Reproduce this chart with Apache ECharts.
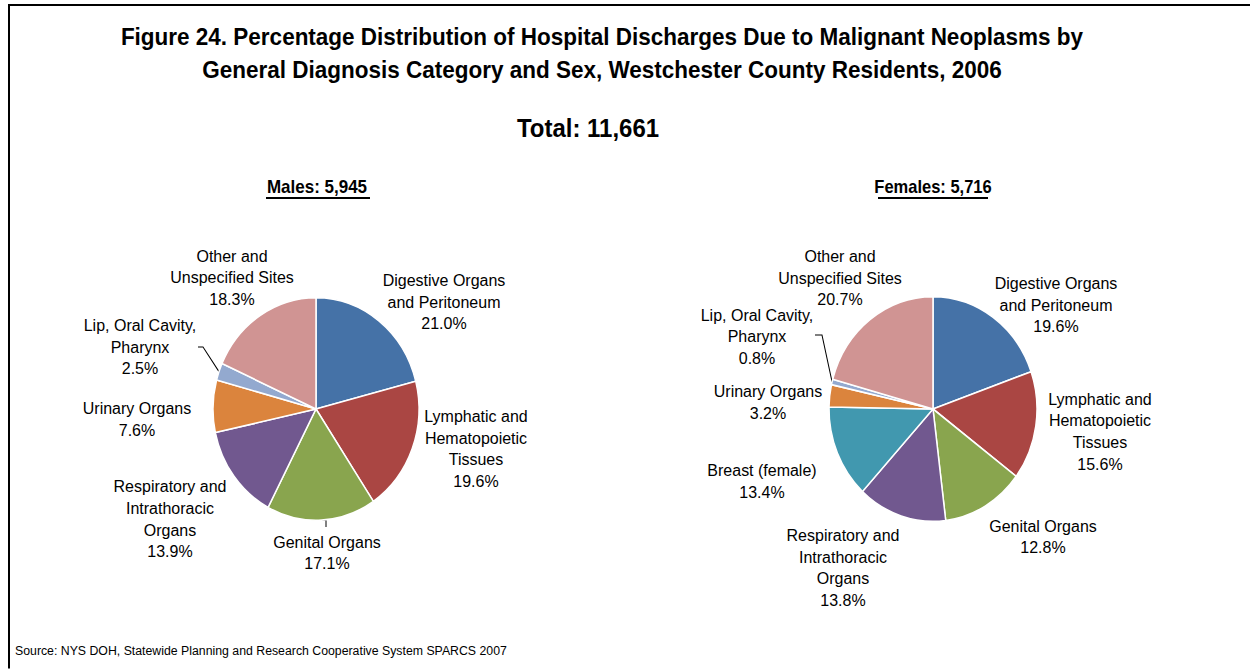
<!DOCTYPE html>
<html>
<head>
<meta charset="utf-8">
<script src="https://cdn.jsdelivr.net/npm/echarts@6/dist/echarts.min.js"></script>
<style>
  html, body { margin: 0; padding: 0; background: #fff; }
  #wrap { width: 1250px; height: 669px; overflow: hidden; position: relative; }
  /* the original picture is stretched vertically by about 8% */
  #main { position: absolute; left: 0; top: 0; width: 1250px; height: 619.4px; transform: scaleY(1.08); transform-origin: 0 0; }
</style>
</head>
<body>
<div id="wrap"><div id="main"></div></div>
<script>
// data
let maleCats = ['Digestive Organs\nand Peritoneum', 'Lymphatic and\nHematopoietic\nTissues', 'Genital Organs',
    'Respiratory and\nIntrathoracic\nOrgans', 'Urinary Organs', 'Lip, Oral Cavity,\nPharynx', 'Other and\nUnspecified Sites'];
let maleValues = [21.0, 19.6, 17.1, 13.9, 7.6, 2.5, 18.3];
let femaleCats = ['Digestive Organs\nand Peritoneum', 'Lymphatic and\nHematopoietic\nTissues', 'Genital Organs',
    'Respiratory and\nIntrathoracic\nOrgans', 'Breast (female)', 'Urinary Organs', 'Lip, Oral Cavity,\nPharynx', 'Other and\nUnspecified Sites'];
let femaleValues = [19.6, 15.6, 12.8, 13.8, 13.4, 3.2, 0.8, 20.7];

let colorOf = {
    'Digestive': '#4572A7', 'Lymphatic': '#AA4643', 'Genital': '#89A54E', 'Respiratory': '#71588F',
    'Breast': '#4198AF', 'Urinary': '#DB843D', 'Lip,': '#93A9CF', 'Other': '#D09493'
};

// label centres (chart coords) and leader line bends
let maleLabelPos = [[444, 279.6], [476, 415.7], [327, 512], [170, 480.6], [137, 388.4], [140, 321.3], [232, 257]];
let maleLeader = {2: [[326, 481.5], [326, 488]], 5: [[203, 321.3], [198, 321.3]]};
let femaleLabelPos = [[1056, 282.4], [1100, 399.5], [1043, 497.2], [843, 525.9], [762, 445.4], [768, 372.7], [757, 311.6], [840, 257.4]];
let femaleLeader = {6: [[822, 310.2], [815, 310.2]]};

let font = '"Liberation Sans", Arial, sans-serif';

function makeData(cats, values, leader) {
    let out = [];
    for (let i = 0; i < cats.length; i++) {
        out.push({
            name: cats[i],
            value: values[i],
            itemStyle: {color: colorOf[cats[i].split(' ')[0]]},
            labelLine: {show: !!leader[i]}
        });
    }
    return out;
}

function makeLayout(pos, leader, center, r) {
    return function (params) {
        let i = params.dataIndex;
        let res = {x: pos[i][0], y: pos[i][1], align: 'center', verticalAlign: 'middle'};
        if (leader[i]) {
            let start = params.labelLinePoints ? params.labelLinePoints[0] : null;
            if (!start) {
                start = [center[0], center[1] + r];
            }
            res.labelLinePoints = [start, leader[i][0], leader[i][1]];
        }
        return res;
    };
}

function pieSeries(cats, values, pos, leader, center, r) {
    return {
        type: 'pie',
        center: center,
        radius: r,
        startAngle: 90,
        clockwise: true,
        avoidLabelOverlap: false,
        animation: false,
        itemStyle: {borderColor: '#fff', borderWidth: 1.5},
        label: {
            show: true,
            position: 'outside',
            color: '#000',
            fontSize: 16,
            lineHeight: 20,
            fontFamily: font,
            formatter: function (p) { return p.name + '\n' + p.value.toFixed(1) + '%'; }
        },
        labelLine: {lineStyle: {color: '#000', width: 1}, length: 5, length2: 5},
        emphasis: {disabled: true},
        labelLayout: makeLayout(pos, leader, center, r),
        data: makeData(cats, values, leader)
    };
}

let chart = echarts.init(document.getElementById('main'), null, {renderer: 'svg'});
chart.setOption({
    backgroundColor: '#fff',
    animation: false,
    graphic: [
        {type: 'line', shape: {x1: 8, y1: 4.6, x2: 1250, y2: 4.6}, style: {stroke: '#000', lineWidth: 2}},
        {type: 'line', shape: {x1: 9, y1: 4, x2: 9, y2: 620}, style: {stroke: '#000', lineWidth: 2}},
        {type: 'text', x: 602, y: 49.5, style: {
            text: 'Figure 24. Percentage Distribution of Hospital Discharges Due to Malignant Neoplasms by\nGeneral Diagnosis Category and Sex, Westchester County Residents, 2006',
            fontSize: 22.5, fontWeight: 'bold', fontFamily: font, lineHeight: 30.5,
            align: 'center', verticalAlign: 'middle', fill: '#000'}},
        {type: 'text', x: 588, y: 118.5, style: {
            text: 'Total: 11,661', fontSize: 24, fontWeight: 'bold', fontFamily: font,
            align: 'center', verticalAlign: 'middle', fill: '#000'}},
        {type: 'text', x: 317, y: 173.1, style: {
            text: 'Males: 5,945', fontSize: 17, fontWeight: 'bold', fontFamily: font,
            align: 'center', verticalAlign: 'middle', fill: '#000'}},
        {type: 'line', shape: {x1: 266, y1: 183.3, x2: 370, y2: 183.3}, style: {stroke: '#000', lineWidth: 1.8}},
        {type: 'text', x: 933, y: 173.1, style: {
            text: 'Females: 5,716', fontSize: 16.5, fontWeight: 'bold', fontFamily: font,
            align: 'center', verticalAlign: 'middle', fill: '#000'}},
        {type: 'line', shape: {x1: 878, y1: 183.3, x2: 988, y2: 183.3}, style: {stroke: '#000', lineWidth: 1.8}},
        {type: 'text', x: 15, y: 601.9, style: {
            text: 'Source: NYS DOH, Statewide Planning and Research Cooperative System SPARCS 2007',
            fontSize: 12.3, fontFamily: font, align: 'left', verticalAlign: 'middle', fill: '#000'}}
    ],
    series: [
        pieSeries(maleCats, maleValues, maleLabelPos, maleLeader, [316, 378.7], 103),
        pieSeries(femaleCats, femaleValues, femaleLabelPos, femaleLeader, [933, 378.7], 104)
    ]
});
</script>
</body>
</html>
